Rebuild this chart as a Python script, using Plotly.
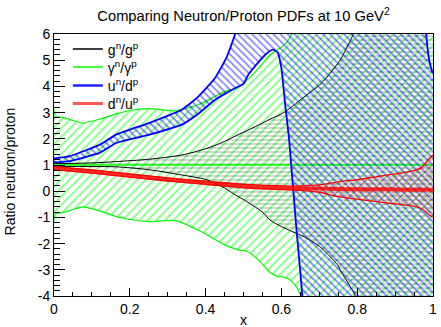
import plotly.graph_objects as go

# ---------------- data ----------------
# gamma^n/gamma^p band (green)
gam_x     = [0.0, 0.004, 0.02, 0.05, 0.076, 0.12, 0.164, 0.2, 0.25, 0.32, 0.38, 0.45, 0.486, 0.51, 0.54, 0.57, 0.59, 0.6, 0.62, 0.64, 0.66, 0.7, 0.8, 0.9, 1.0]
gam_upper = [50, 2.85, 2.83, 2.7, 2.6, 2.75, 2.95, 3.08, 3.15, 3.07, 3.3, 3.8, 3.95, 4.25, 4.7, 5.2, 5.4, 5.5, 5.8, 6.5, 8, 12, 20, 20, 20]
gam_lower = [-50, -0.85, -0.83, -0.7, -0.6, -0.75, -0.97, -1.08, -1.16, -1.12, -1.48, -2.05, -2.24, -2.3, -2.63, -3.1, -3.25, -3.27, -3.35, -3.65, -4.3, -8, -20, -20, -20]
gam_center = [1.0, 1.0]
gam_center_x = [0.0, 1.0]

# g^n/g^p band (black)
g_x     = [0.0, 0.1, 0.164, 0.25, 0.337, 0.4, 0.425, 0.45, 0.486, 0.5, 0.55, 0.57, 0.6, 0.63, 0.66, 0.7, 0.72, 0.75, 0.755, 0.79, 0.795, 0.85, 1.0]
g_upper = [1.05, 1.08, 1.13, 1.22, 1.38, 1.62, 1.75, 1.9, 2.16, 2.25, 2.6, 2.75, 2.95, 3.25, 3.6, 4.05, 4.35, 4.9, 5.0, 6.0, 6.2, 8.0, 14.0]
g_lower = [0.95, 0.94, 0.93, 0.82, 0.62, 0.45, 0.31, 0.12, -0.21, -0.32, -0.8, -1.1, -1.35, -1.55, -1.74, -2.1, -2.37, -2.85, -3.0, -3.85, -4.0, -6.0, -14.0]

# u^n/d^p band (blue)
u_x     = [0.0, 0.042, 0.12, 0.164, 0.25, 0.337, 0.38, 0.425, 0.455, 0.478, 0.5, 0.513, 0.535, 0.557, 0.577, 0.59, 0.6, 0.61, 0.62, 0.625, 0.64, 0.655, 0.67, 0.8, 0.95, 0.97, 0.982, 0.99, 0.995, 1.0]
u_upper = [1.25, 1.34, 1.77, 2.16, 2.6, 3.11, 3.6, 4.32, 5.1, 6.0, 7.0, 7.5, 8.5, 10, 12, 12, 12, 12, 12, 12, 12, 12, 12, 12, 12, 9.0, 6.0, 5.0, 4.7, 4.5]
u_lower = [1.1, 1.15, 1.46, 1.84, 2.15, 2.54, 2.95, 3.49, 3.75, 3.94, 4.1, 4.45, 4.85, 5.2, 5.4, 5.3, 4.7, 3.3, 2.03, 1.15, -1.5, -4.0, -10, -10, -10, -10, -10, -10, -10, -10]

# d^n/u^p band (red)
d_x      = [0.0, 0.1, 0.2, 0.3, 0.4, 0.5, 0.6, 0.65, 0.7, 0.75, 0.8, 0.85, 0.88, 0.92, 0.955, 0.97, 0.98, 0.99, 1.0]
d_center = [0.88, 0.75, 0.6, 0.45, 0.32, 0.2, 0.13, 0.11, 0.1, 0.08, 0.07, 0.07, 0.07, 0.06, 0.06, 0.06, 0.06, 0.06, 0.05]
d_upper  = [0.94, 0.81, 0.66, 0.51, 0.38, 0.27, 0.2, 0.2, 0.24, 0.36, 0.44, 0.55, 0.62, 0.7, 0.81, 0.9, 1.07, 1.25, 1.38]
d_lower  = [0.82, 0.69, 0.54, 0.39, 0.26, 0.13, 0.06, 0.03, -0.04, -0.21, -0.3, -0.4, -0.45, -0.52, -0.59, -0.67, -0.78, -0.91, -1.0]

x_tick_vals = [0, 0.2, 0.4, 0.6, 0.8, 1.0]
x_tick_text = ["0", "0.2", "0.4", "0.6", "0.8", "1"]
y_tick_vals = [-4, -3, -2, -1, 0, 1, 2, 3, 4, 5, 6]
y_tick_text = ["-4", "-3", "-2", "-1", "0", "1", "2", "3", "4", "5", "6"]

legend_names = ["g<sup>n</sup>/g<sup>p</sup>", "γ<sup>n</sup>/γ<sup>p</sup>",
                "u<sup>n</sup>/d<sup>p</sup>", "d<sup>n</sup>/u<sup>p</sup>"]

FONT = "Liberation Sans, Arial, Helvetica, sans-serif"
GREEN = "#00ff00"
BLUE = "#0000ff"
RED = "#ff0000"
BLACK = "#000000"
CLEAR = "rgba(0,0,0,0)"

# plot-area geometry in pixels (for placing text / legends)
PL, PR, PT, PB = 54, 437, 34, 296
W, H = 441, 327


def px2paper_x(px):
    return (px - PL) / (PR - PL)


def px2paper_y(py):
    return (PB - py) / (PB - PT)


fig = go.Figure()


def band(x, lo, hi, color, shape, size, solidity, width, pat_color=None, smooth=0.6):
    ln = dict(color=color, width=width, shape="spline", smoothing=smooth)
    fig.add_trace(go.Scatter(x=x, y=lo, mode="lines", line=ln,
                             showlegend=False, hoverinfo="skip"))
    fig.add_trace(go.Scatter(x=x, y=hi, mode="lines", line=ln,
                             fill="tonexty", fillcolor=CLEAR,
                             fillpattern=dict(shape=shape, size=size, solidity=solidity,
                                              fgcolor=pat_color or color, bgcolor=CLEAR),
                             showlegend=False, hoverinfo="skip"))


# green band
band(gam_x, gam_lower, gam_upper, GREEN, "/", 6, 0.3, 1.2, smooth=0.5)
# black band
band(g_x, g_lower, g_upper, BLACK, "-", 4, 0.25, 1.0, pat_color="rgba(0,0,0,0.6)", smooth=0.8)
# green central line
fig.add_trace(go.Scatter(x=gam_center_x, y=gam_center, mode="lines",
                         line=dict(color=GREEN, width=1.5), showlegend=False, hoverinfo="skip"))
# blue band
band(u_x, u_lower, u_upper, BLUE, "\\", 5, 0.32, 1.8, smooth=0.4)
# red band
band(d_x, d_lower, d_upper, RED, "x", 4, 0.3, 1.3, smooth=0.8)
fig.add_trace(go.Scatter(x=d_x, y=d_center, mode="lines",
                         line=dict(color="rgba(255,0,0,0.8)", width=4, shape="spline", smoothing=0.8),
                         showlegend=False, hoverinfo="skip"))

# legend entries, each in its own legend box so the rows sit where the reference has them
legend_colors = [BLACK, GREEN, "#2020ff", "rgba(255,70,70,0.9)"]
legend_widths = [1.5, 1.5, 2.5, 3.0]
legend_rows_px = [49.5, 67.5, 86, 104]
legend_keys = ["legend", "legend2", "legend3", "legend4"]
legend_layout = {}
for nm, c, w, py, key in zip(legend_names, legend_colors, legend_widths, legend_rows_px, legend_keys):
    fig.add_trace(go.Scatter(x=[None], y=[None], mode="lines", name=nm, legend=key,
                             line=dict(color=c, width=w), showlegend=True))
    legend_layout[key] = dict(x=px2paper_x(68), y=px2paper_y(py), xanchor="left", yanchor="middle",
                              bgcolor=CLEAR, borderwidth=0,
                              font=dict(family=FONT, size=14, color="black"))

fig.update_layout(
    width=W, height=H,
    margin=dict(l=PL, r=W - PR, t=PT, b=H - PB),
    paper_bgcolor="white", plot_bgcolor="white",
    font=dict(family=FONT, size=14, color="black"),
    title=dict(text="Comparing Neutron/Proton PDFs at 10 GeV<sup>2</sup>",
               x=0.5, xref="paper", xanchor="center",
               y=1 - 16 / H, yref="container", yanchor="middle",
               font=dict(family=FONT, size=14.7, color="black")),
    showlegend=True,
    xaxis=dict(range=[0, 1], tickmode="array", tickvals=x_tick_vals, ticktext=x_tick_text,
               ticks="inside", ticklen=8, tickcolor="black", tickwidth=1,
               ticklabeloverflow="allow",
               showline=True, linecolor="black", linewidth=1, mirror=True,
               showgrid=False, zeroline=False,
               minor=dict(tickmode="linear", tick0=0, dtick=0.05, ticks="inside",
                          ticklen=4, tickcolor="black", showgrid=False),
               tickfont=dict(family=FONT, size=14, color="black")),
    yaxis=dict(range=[-4, 6], tickmode="array", tickvals=y_tick_vals, ticktext=y_tick_text,
               ticks="inside", ticklen=11, tickcolor="black", tickwidth=1,
               ticklabeloverflow="allow",
               showline=True, linecolor="black", linewidth=1, mirror=True,
               showgrid=False, zeroline=False,
               minor=dict(tickmode="linear", tick0=0, dtick=0.2, ticks="inside",
                          ticklen=6, tickcolor="black", showgrid=False),
               tickfont=dict(family=FONT, size=14, color="black")),
    annotations=[
        dict(text="Ratio neutron/proton", xref="paper", yref="paper",
             x=px2paper_x(10), y=px2paper_y(171), xanchor="center", yanchor="middle",
             textangle=-90, showarrow=False, font=dict(family=FONT, size=14, color="black")),
        dict(text="x", xref="paper", yref="paper",
             x=px2paper_x(246), y=px2paper_y(320), xanchor="center", yanchor="middle",
             showarrow=False, font=dict(family=FONT, size=14, color="black")),
    ],
    **legend_layout,
)

fig.write_html("out.html")
